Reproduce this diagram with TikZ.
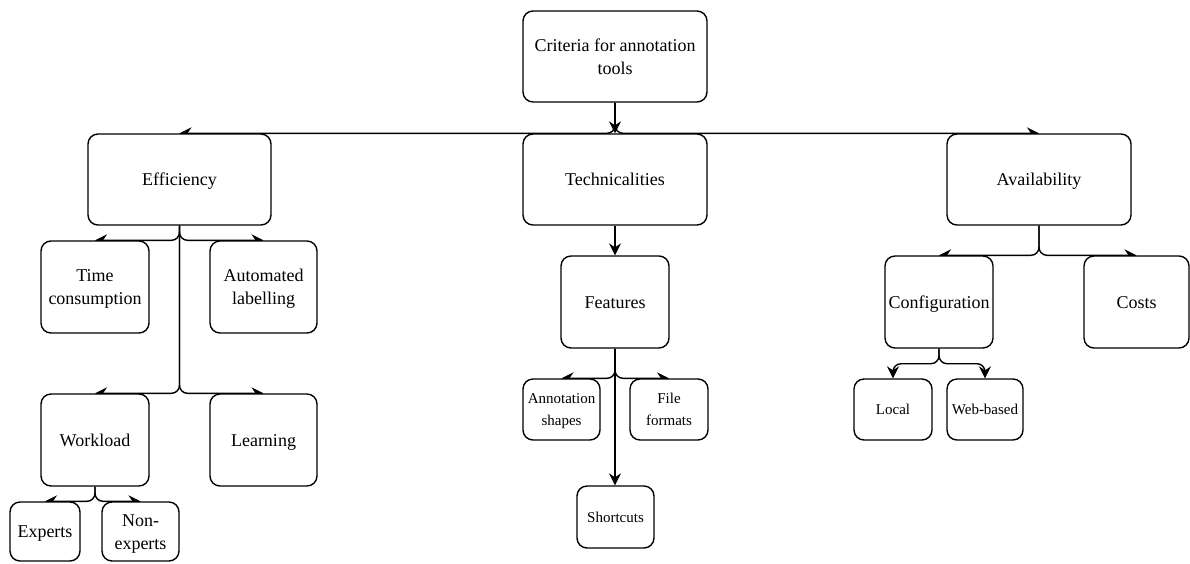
\documentclass[tikz,border=0pt]{standalone}
\usepackage{fontspec}
\setmainfont{Liberation Serif}
\usetikzlibrary{arrows.meta,backgrounds}
\newcommand\lnstrut{\rule[-0.25em]{0pt}{1.2em}}
\tikzset{
  box/.style={draw, line width=1.4pt, rounded corners=10pt, fill=white, align=center,
    inner sep=0pt, font=\fontsize{18}{23}\selectfont,
    execute at begin node=\lnstrut, execute at end node=\lnstrut},
  smallbox/.style={box, font=\fontsize{15}{22}\selectfont},
  arr/.style={-{Stealth[length=12pt,width=12pt,inset=4pt]}, line width=1.4pt, rounded corners=8pt},
}
\begin{document}
\begin{tikzpicture}[x=1pt,y=-1pt]
\useasboundingbox (0,0) rectangle (1190,563);
% level 0
\node[box, minimum width=184pt, minimum height=91pt] (root) at (615,56.5) {\lnstrut Criteria for annotation\\tools};
% level 1
\node[box, minimum width=183pt, minimum height=91pt] (eff) at (179.5,179.5) {Efficiency};
\node[box, minimum width=184pt, minimum height=91pt] (tech) at (615,179.5) {Technicalities};
\node[box, minimum width=184pt, minimum height=91pt] (avail) at (1039,179.5) {Availability};
% efficiency children
\node[box, minimum width=108pt, minimum height=92pt] (time) at (95,287) {\lnstrut Time\\consumption};
\node[box, minimum width=107pt, minimum height=92pt] (auto) at (263.5,287) {\lnstrut Automated\\labelling};
\node[box, minimum width=108pt, minimum height=92pt] (work) at (95,440) {Workload};
\node[box, minimum width=107pt, minimum height=92pt] (learn) at (263.5,440) {Learning};
\node[box, minimum width=70pt, minimum height=59pt] (exp) at (45,531.5) {Experts};
\node[box, minimum width=77pt, minimum height=59pt] (nonexp) at (140.5,531.5) {\lnstrut Non-\\experts};
% technicalities children
\node[box, minimum width=108pt, minimum height=92pt] (feat) at (615,302) {Features};
\node[smallbox, minimum width=77pt, minimum height=61pt] (shapes) at (561.5,409.5) {\lnstrut Annotation\\shapes};
\node[smallbox, minimum width=78pt, minimum height=61pt] (files) at (669,409.5) {\lnstrut File\\formats};
\node[smallbox, minimum width=77pt, minimum height=62pt] (short) at (615.5,517) {Shortcuts};
% availability children
\node[box, minimum width=108pt, minimum height=92pt] (conf) at (939,302) {Configuration};
\node[box, minimum width=105pt, minimum height=92pt] (costs) at (1136.5,302) {Costs};
\node[smallbox, minimum width=78pt, minimum height=61pt] (local) at (893,409.5) {Local};
\node[smallbox, minimum width=76pt, minimum height=61pt] (web) at (985,409.5) {Web-based};
\begin{pgfonlayer}{background}
\draw[arr] (root.south) |- (eff.north);
\draw[arr] (root.south) -- (tech.north);
\draw[arr] (root.south) |- (avail.north);
\draw[arr] (eff.south) |- (time.north);
\draw[arr] (eff.south) |- (auto.north);
\draw[arr] (eff.south) |- (work.north);
\draw[arr] (eff.south) |- (learn.north);
\draw[arr] (work.south) |- (exp.north);
\draw[arr] (work.south) |- (nonexp.north);
\draw[arr] (tech.south) -- (feat.north);
\draw[arr] (feat.south) |- (shapes.north);
\draw[arr] (feat.south) |- (files.north);
\draw[arr] (feat.south) -- (feat.south |- short.north);
\draw[arr] (avail.south) |- (conf.north);
\draw[arr] (avail.south) |- (costs.north);
\draw[arr] (conf.south) -- ++(0,15) -| (local.north);
\draw[arr] (conf.south) -- ++(0,15) -| (web.north);
\end{pgfonlayer}
\end{tikzpicture}
\end{document}
